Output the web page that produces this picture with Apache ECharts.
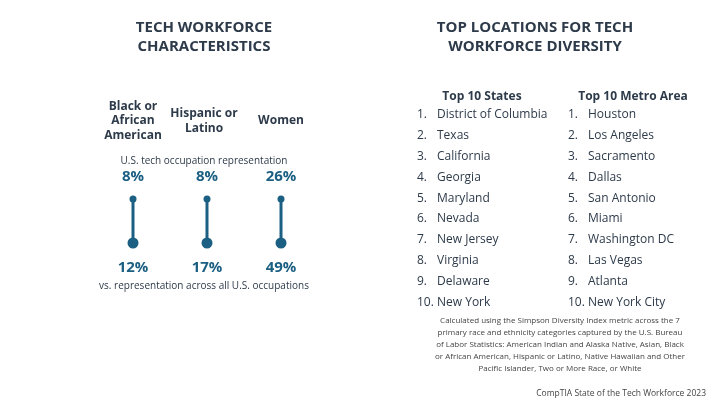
<!DOCTYPE html>
<html><head><meta charset="utf-8">
<script src="https://cdn.jsdelivr.net/npm/echarts@6/dist/echarts.min.js"></script>
<style>html,body{margin:0;padding:0;background:#fff}#c{width:720px;height:405px}</style>
</head><body><div id="c"></div>
<script>
const groups = ['Black or\nAfrican\nAmerican', 'Hispanic or\nLatino', 'Women'];
const techShare = [8, 8, 26];
const allShare = [12, 17, 49];
const states = ['District of Columbia','Texas','California','Georgia','Maryland','Nevada','New Jersey','Virginia','Delaware','New York'];
const metros = ['Houston','Los Angeles','Sacramento','Dallas','San Antonio','Miami','Washington DC','Las Vegas','Atlanta','New York City'];

const C = '#1b5f82', T = '#2d3a4a', F = 'Open Sans';
const chart = echarts.init(document.getElementById('c'));
const g = [];
function txt(x, y, s, o) { g.push({type:'text', x, y, style:Object.assign({text:s, fontFamily:F, fill:T, fontSize:12, align:'left', verticalAlign:'middle'}, o||{})}); }
txt(204, 37, 'TECH WORKFORCE\nCHARACTERISTICS', {align:'center', fontWeight:'bold', fontSize:15, lineHeight:19});
txt(535, 37, 'TOP LOCATIONS FOR TECH\nWORKFORCE DIVERSITY', {align:'center', fontWeight:'bold', fontSize:15, lineHeight:19});
const cx = [133, 204, 281];
groups.forEach((s, i) => txt(cx[i], 121, s, {align:'center', fontWeight:'bold', fontSize:12, lineHeight:14.5}));
txt(204, 161, 'U.S. tech occupation representation', {align:'center', fontSize:10});
txt(204, 286, 'vs. representation across all U.S. occupations', {align:'center', fontSize:10});
txt(482, 97, 'Top 10 States', {align:'center', fontWeight:'bold'});
txt(633, 97, 'Top 10 Metro Area', {align:'center', fontWeight:'bold'});
states.forEach((s, i) => { const y = 115 + i * 20.8; txt(417, y, (i+1)+'.'); txt(437, y, s); });
metros.forEach((s, i) => { const y = 115 + i * 20.8; txt(568, y, (i+1)+'.'); txt(588, y, s); });
txt(560, 345, 'Calculated using the Simpson Diversity Index metric across the 7\nprimary race and ethnicity categories captured by the U.S. Bureau\nof Labor Statistics: American Indian and Alaska Native, Asian, Black\nor African American, Hispanic or Latino, Native Hawaiian and Other\nPacific Islander, Two or More Race, or White', {align:'center', fontSize:8, lineHeight:12, fill:'#444'});
txt(706, 394, 'CompTIA State of the Tech Workforce 2023', {align:'right', fontSize:8.5, fill:'#444'});

chart.setOption({
  animation:false,
  grid:{left:96, width:222, top:199, height:44},
  xAxis:{type:'category', data:groups, show:false},
  yAxis:{type:'category', data:['all','tech'], boundaryGap:false, show:false},
  graphic:g,
  series:[
    {type:'custom', renderItem:(p, api) => {
      const a = api.coord([api.value(0), 'tech']), b = api.coord([api.value(0), 'all']);
      return {type:'line', shape:{x1:a[0], y1:a[1], x2:b[0], y2:b[1]}, style:{stroke:C, lineWidth:3}};
    }, data:groups.map((_, i) => [i])},
    {type:'scatter', symbolSize:7, itemStyle:{color:C, opacity:1},
     label:{show:true, position:'top', distance:11, formatter:p => p.data[2]+'%', color:C, fontWeight:'bold', fontSize:15, fontFamily:F},
     data:techShare.map((v, i) => [i, 'tech', v])},
    {type:'scatter', symbolSize:11, itemStyle:{color:C, opacity:1},
     label:{show:true, position:'bottom', distance:12, formatter:p => p.data[2]+'%', color:C, fontWeight:'bold', fontSize:15, fontFamily:F},
     data:allShare.map((v, i) => [i, 'all', v])}
  ]
});
</script></body></html>
